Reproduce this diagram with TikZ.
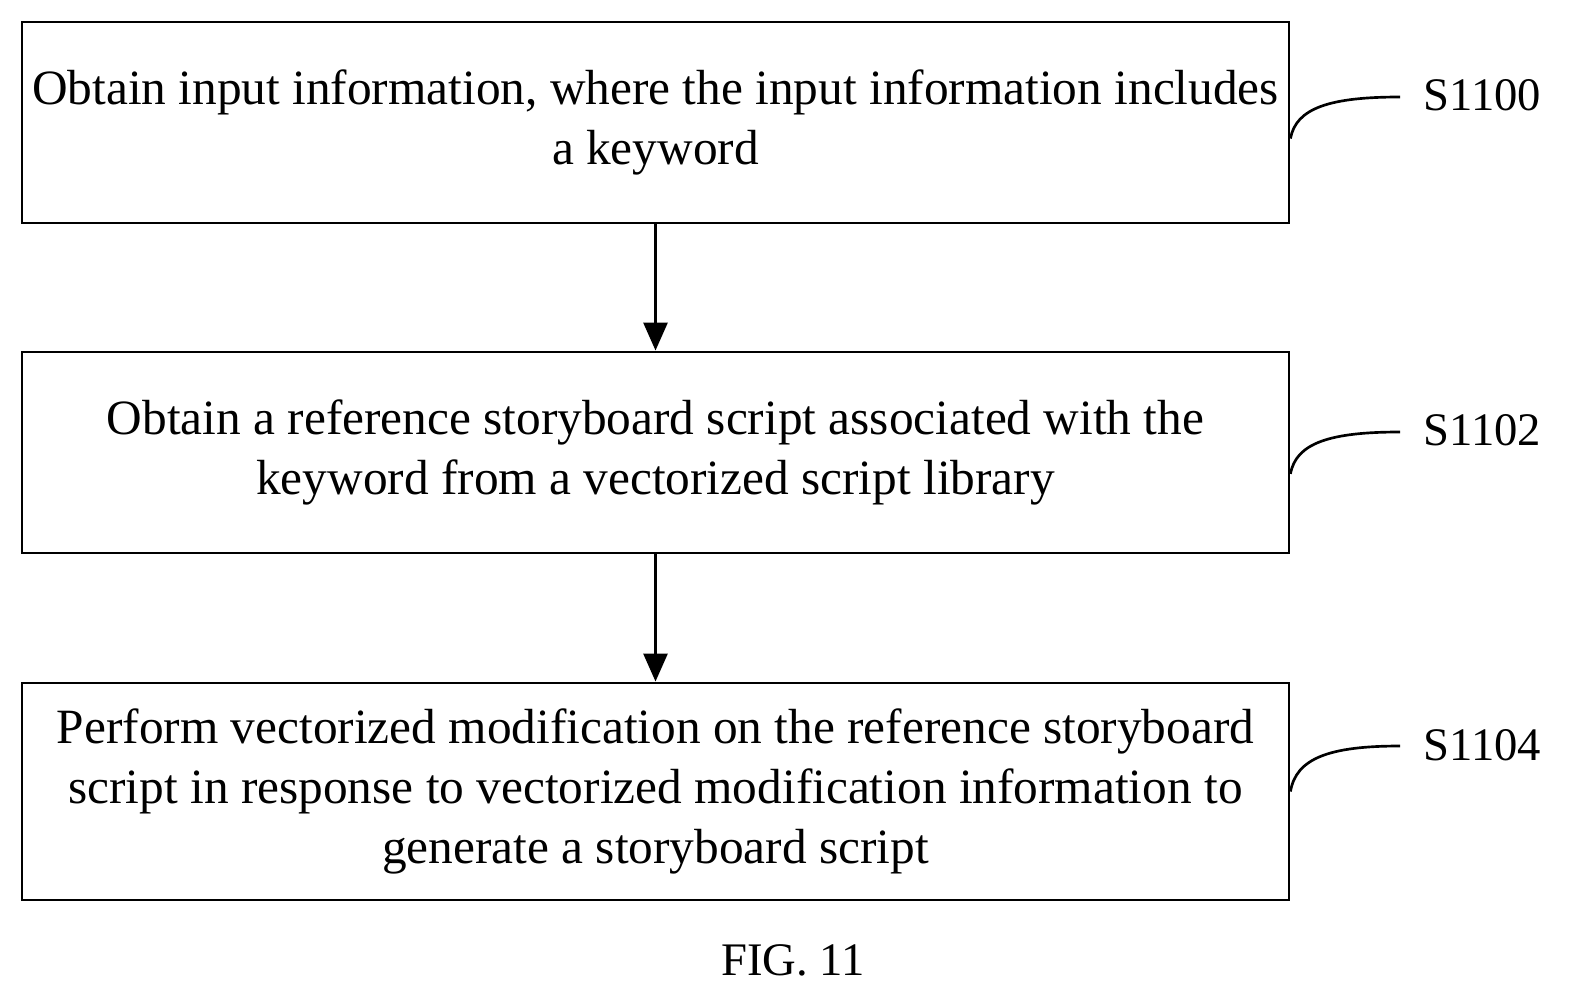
\documentclass[tikz,border=0pt]{standalone}
\usepackage{fontspec}
\setmainfont{Liberation Serif}
\usetikzlibrary{arrows.meta}
\tikzset{every picture/.style={line width=0.75pt}}
\tikzset{
  stepbox/.style={draw,line width=2.2pt,minimum width=950.25pt,inner sep=0pt,align=center,
    font=\fontsize{37}{45}\selectfont},
  steplabel/.style={anchor=west,inner sep=0pt,font=\fontsize{35}{40}\selectfont},
  flow/.style={line width=2.2pt,-{Triangle[length=21pt,width=18pt]}},
}
\begin{document}
\begin{tikzpicture}[x=0.75pt,y=0.75pt,yscale=-1,xscale=1]
\useasboundingbox (0,0) rectangle (1581,1006);

% Step boxes
\node [stepbox,minimum height=150.75pt] (b1) at (655.5,122.5) {Obtain input information, where the input information includes\\a keyword};
\node [stepbox,minimum height=150.75pt] (b2) at (655.5,452.5) {Obtain a reference storyboard script associated with the\\keyword from a vectorized script library};
\node [stepbox,minimum height=162.75pt] (b3) at (655.5,791.5) {Perform vectorized modification on the reference storyboard\\script in response to vectorized modification information to\\generate a storyboard script};

% Arrows
\draw [flow] (b1) -- (b2);
\draw [flow] (b2) -- (b3);

% Step labels
\node [steplabel] (s1) at (1423,95) {S1100};
\node [steplabel] (s2) at (1423,430) {S1102};
\node [steplabel] (s3) at (1423,745) {S1104};
\draw [line width=2pt] ([yshift=12pt]b1.east) .. controls (1296,108) and (1330,97) .. (1400,97);
\draw [line width=2pt] ([yshift=16pt]b2.east) .. controls (1296,443) and (1330,432) .. (1400,432);
\draw [line width=2pt] ([yshift=0pt]b3.east) .. controls (1296,758) and (1330,746) .. (1400,746);

% Caption
\node [font=\fontsize{35}{40}\selectfont] (cap) at (793,960) {FIG. 11};

\end{tikzpicture}
\end{document}
